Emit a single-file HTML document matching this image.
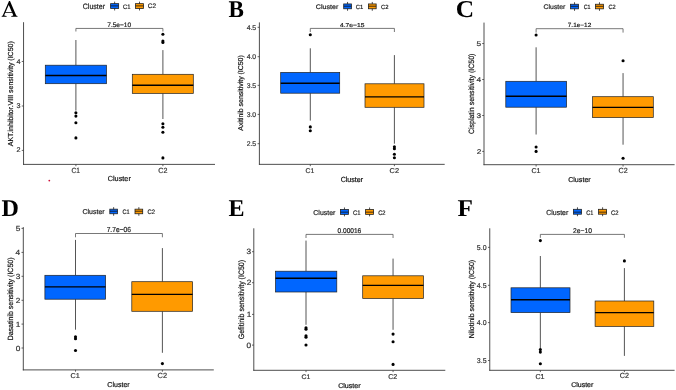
<!DOCTYPE html><html><head><meta charset="utf-8"><style>html,body{margin:0;padding:0;background:#fff;width:676px;height:390px;overflow:hidden}svg{display:block;will-change:transform}text{font-family:"Liberation Sans",sans-serif;text-rendering:geometricPrecision}</style></head><body>
<svg width="676" height="390" viewBox="0 0 676 390">
<rect width="676" height="390" fill="#fff"/>
<g>
<path fill="#000" fill-rule="evenodd" d="M1.7 16.7H6.6V15.9Q4.6 15.8 4.2 15.2L5.32 12.7H12.18L13.3 15.2Q13 15.8 11.3 15.9V16.7H17.5V15.9Q16.4 15.8 16.1 15.2L10 1.1H9L2.9 15.2Q2.6 15.8 1.7 15.9ZM5.675 11.9H11.825L8.75 5.02Z"/>
<text transform="translate(82.7 8.704) scale(0.911 1)" style="font-family:'Liberation Sans',sans-serif;font-weight:normal;font-size:7.789px" fill="#222" stroke="#222" stroke-width="0.2">Cluster</text>
<line x1="114.625" y1="1.65" x2="114.625" y2="10.48" stroke="#222" stroke-width="0.8"/>
<rect x="110.6" y="3.65" width="8.05" height="4.83" fill="#0066FF" stroke="#222" stroke-width="0.8"/>
<line x1="110.6" y1="5.9" x2="118.65" y2="5.9" stroke="#111" stroke-width="0.8"/>
<line x1="139.5" y1="1.65" x2="139.5" y2="10.48" stroke="#222" stroke-width="0.8"/>
<rect x="135.5" y="3.65" width="8" height="4.83" fill="#FF9A00" stroke="#222" stroke-width="0.8"/>
<line x1="135.5" y1="5.9" x2="143.5" y2="5.9" stroke="#111" stroke-width="0.8"/>
<text transform="translate(122.903 8.597) scale(0.909 1)" style="font-family:'Liberation Sans',sans-serif;font-weight:normal;font-size:6.441px" fill="#222" stroke="#222" stroke-width="0.2">C1</text>
<text transform="translate(147.833 8.437) scale(1.003 1)" style="font-family:'Liberation Sans',sans-serif;font-weight:normal;font-size:6.426px" fill="#222" stroke="#222" stroke-width="0.2">C2</text>
<line x1="23.55" y1="22.2" x2="23.55" y2="164.85" stroke="#3a3a3a" stroke-width="0.9"/>
<line x1="23.1" y1="164.4" x2="215" y2="164.4" stroke="#3a3a3a" stroke-width="0.9"/>
<line x1="21.75" y1="61.46" x2="23.55" y2="61.46" stroke="#3a3a3a" stroke-width="0.8"/>
<text transform="translate(16.394 63.51) scale(1.057 1)" style="font-size:6.832px" fill="#333" stroke="#333" stroke-width="0.2">4</text>
<line x1="21.75" y1="106" x2="23.55" y2="106" stroke="#3a3a3a" stroke-width="0.8"/>
<text transform="translate(16.5 108.05) scale(1.057 1)" style="font-size:6.832px" fill="#333" stroke="#333" stroke-width="0.2">3</text>
<line x1="21.75" y1="150.4" x2="23.55" y2="150.4" stroke="#3a3a3a" stroke-width="0.8"/>
<text transform="translate(16.546 152.45) scale(1.057 1)" style="font-size:6.832px" fill="#333" stroke="#333" stroke-width="0.2">2</text>
<line x1="75.9" y1="164.4" x2="75.9" y2="166.2" stroke="#3a3a3a" stroke-width="0.8"/>
<line x1="162.9" y1="164.4" x2="162.9" y2="166.2" stroke="#3a3a3a" stroke-width="0.8"/>
<text transform="translate(71.464 172.727) scale(0.884 1)" style="font-family:'Liberation Sans',sans-serif;font-weight:normal;font-size:7.486px" fill="#333" stroke="#333" stroke-width="0.2">C1</text>
<text transform="translate(158.338 172.727) scale(0.953 1)" style="font-family:'Liberation Sans',sans-serif;font-weight:normal;font-size:7.486px" fill="#333" stroke="#333" stroke-width="0.2">C2</text>
<text transform="translate(107.729 181.13) scale(1.012 1)" style="font-family:'Liberation Sans',sans-serif;font-weight:normal;font-size:7.217px" fill="#111" stroke="#111" stroke-width="0.2">Cluster</text>
<text transform="translate(13.4 146.214) rotate(-90) scale(0.965 1)" style="font-size:7.267px" fill="#111" stroke="#111" stroke-width="0.2">AKT.inhibitor.VIII sensitivity (IC50)</text>
<line x1="75.9" y1="40" x2="75.9" y2="65.2" stroke="#2a2a2a" stroke-width="0.8"/>
<line x1="75.9" y1="83.7" x2="75.9" y2="110.6" stroke="#2a2a2a" stroke-width="0.8"/>
<rect x="45.3" y="65.2" width="61.2" height="18.5" fill="#0066FF" stroke="#222" stroke-width="0.7"/>
<line x1="45.3" y1="75.5" x2="106.5" y2="75.5" stroke="#000" stroke-width="1.35"/>
<circle cx="75.9" cy="112.8" r="1.55" fill="#000"/>
<circle cx="75.9" cy="116.1" r="1.55" fill="#000"/>
<circle cx="75.9" cy="122.8" r="1.55" fill="#000"/>
<circle cx="75.9" cy="137.9" r="1.55" fill="#000"/>
<line x1="162.9" y1="50.1" x2="162.9" y2="74.3" stroke="#2a2a2a" stroke-width="0.8"/>
<line x1="162.9" y1="93.4" x2="162.9" y2="119" stroke="#2a2a2a" stroke-width="0.8"/>
<rect x="132.3" y="74.3" width="61" height="19.1" fill="#FF9A00" stroke="#222" stroke-width="0.7"/>
<line x1="132.3" y1="85.2" x2="193.3" y2="85.2" stroke="#000" stroke-width="1.35"/>
<circle cx="162.9" cy="34.2" r="1.55" fill="#000"/>
<circle cx="162.9" cy="41" r="1.55" fill="#000"/>
<circle cx="162.9" cy="42.5" r="1.55" fill="#000"/>
<circle cx="162.9" cy="123.7" r="1.55" fill="#000"/>
<circle cx="162.9" cy="127.2" r="1.55" fill="#000"/>
<circle cx="162.9" cy="132.3" r="1.55" fill="#000"/>
<circle cx="162.9" cy="157.9" r="1.55" fill="#000"/>
<path d="M75.9 31.5V28.43H162.9V31.5" fill="none" stroke="#555" stroke-width="0.8"/>
<text transform="translate(107.222 26.637) scale(1.014 1)" style="font-family:'Liberation Sans',sans-serif;font-weight:normal;font-size:6.497px" fill="#222" stroke="#222" stroke-width="0.2">7.5e−10</text>
</g>
<g>
<text transform="translate(228.416 16.57) scale(0.963 1)" style="font-family:'Liberation Serif',serif;font-weight:bold;font-size:24.007px" fill="#000" stroke="#000" stroke-width="0">B</text>
<text transform="translate(315.81 8.736) scale(1.074 1)" style="font-family:'Liberation Sans',sans-serif;font-weight:normal;font-size:6.604px" fill="#222" stroke="#222" stroke-width="0.2">Cluster</text>
<line x1="347.55" y1="1.95" x2="347.55" y2="10.77" stroke="#222" stroke-width="0.8"/>
<rect x="343.7" y="3.95" width="7.7" height="4.82" fill="#0066FF" stroke="#222" stroke-width="0.8"/>
<line x1="343.7" y1="6.2" x2="351.4" y2="6.2" stroke="#111" stroke-width="0.8"/>
<line x1="372.28" y1="1.95" x2="372.28" y2="10.77" stroke="#222" stroke-width="0.8"/>
<rect x="368.4" y="3.95" width="7.76" height="4.82" fill="#FF9A00" stroke="#222" stroke-width="0.8"/>
<line x1="368.4" y1="6.2" x2="376.16" y2="6.2" stroke="#111" stroke-width="0.8"/>
<text transform="translate(355.803 8.842) scale(0.987 1)" style="font-family:'Liberation Sans',sans-serif;font-weight:normal;font-size:5.932px" fill="#222" stroke="#222" stroke-width="0.2">C1</text>
<text transform="translate(381.002 8.842) scale(0.988 1)" style="font-family:'Liberation Sans',sans-serif;font-weight:normal;font-size:5.932px" fill="#222" stroke="#222" stroke-width="0.2">C2</text>
<line x1="259.4" y1="22.4" x2="259.4" y2="164.8" stroke="#3a3a3a" stroke-width="0.9"/>
<line x1="258.95" y1="164.35" x2="444.7" y2="164.35" stroke="#3a3a3a" stroke-width="0.9"/>
<line x1="257.6" y1="27.3" x2="259.4" y2="27.3" stroke="#3a3a3a" stroke-width="0.8"/>
<text transform="translate(246.68 29.647) scale(1.001 1)" style="font-size:6.822px" fill="#333" stroke="#333" stroke-width="0.2">4.5</text>
<line x1="257.6" y1="56.7" x2="259.4" y2="56.7" stroke="#3a3a3a" stroke-width="0.8"/>
<text transform="translate(246.66 59.047) scale(1.001 1)" style="font-size:6.822px" fill="#333" stroke="#333" stroke-width="0.2">4.0</text>
<line x1="257.6" y1="85.35" x2="259.4" y2="85.35" stroke="#3a3a3a" stroke-width="0.8"/>
<text transform="translate(246.68 87.697) scale(1.001 1)" style="font-size:6.822px" fill="#333" stroke="#333" stroke-width="0.2">3.5</text>
<line x1="257.6" y1="114.4" x2="259.4" y2="114.4" stroke="#3a3a3a" stroke-width="0.8"/>
<text transform="translate(246.66 116.747) scale(1.001 1)" style="font-size:6.822px" fill="#333" stroke="#333" stroke-width="0.2">3.0</text>
<line x1="257.6" y1="143.7" x2="259.4" y2="143.7" stroke="#3a3a3a" stroke-width="0.8"/>
<text transform="translate(246.68 146.047) scale(1.001 1)" style="font-size:6.822px" fill="#333" stroke="#333" stroke-width="0.2">2.5</text>
<line x1="310.3" y1="164.35" x2="310.3" y2="166.15" stroke="#3a3a3a" stroke-width="0.8"/>
<line x1="394.4" y1="164.35" x2="394.4" y2="166.15" stroke="#3a3a3a" stroke-width="0.8"/>
<text transform="translate(305.451 172.732) scale(0.993 1)" style="font-family:'Liberation Sans',sans-serif;font-weight:normal;font-size:6.921px" fill="#333" stroke="#333" stroke-width="0.2">C1</text>
<text transform="translate(389.523 172.731) scale(1.052 1)" style="font-family:'Liberation Sans',sans-serif;font-weight:normal;font-size:7.062px" fill="#333" stroke="#333" stroke-width="0.2">C2</text>
<text transform="translate(340.64 181.527) scale(0.948 1)" style="font-family:'Liberation Sans',sans-serif;font-weight:normal;font-size:7.489px" fill="#111" stroke="#111" stroke-width="0.2">Cluster</text>
<text transform="translate(243.2 130.714) rotate(-90) scale(0.975 1)" style="font-size:7.122px" fill="#111" stroke="#111" stroke-width="0.2">Axitinib sensitivity (IC50)</text>
<line x1="310.3" y1="48.3" x2="310.3" y2="72.4" stroke="#2a2a2a" stroke-width="0.8"/>
<line x1="310.3" y1="93.2" x2="310.3" y2="120.6" stroke="#2a2a2a" stroke-width="0.8"/>
<rect x="280.7" y="72.4" width="59" height="20.8" fill="#0066FF" stroke="#222" stroke-width="0.7"/>
<line x1="280.7" y1="83.2" x2="339.7" y2="83.2" stroke="#000" stroke-width="1.35"/>
<circle cx="310.3" cy="34.8" r="1.55" fill="#000"/>
<circle cx="310.3" cy="126.9" r="1.55" fill="#000"/>
<circle cx="310.3" cy="130.8" r="1.55" fill="#000"/>
<line x1="394.4" y1="55.1" x2="394.4" y2="83.8" stroke="#2a2a2a" stroke-width="0.8"/>
<line x1="394.4" y1="107.3" x2="394.4" y2="143.7" stroke="#2a2a2a" stroke-width="0.8"/>
<rect x="365" y="83.8" width="59" height="23.5" fill="#FF9A00" stroke="#222" stroke-width="0.7"/>
<line x1="365" y1="96.9" x2="424" y2="96.9" stroke="#000" stroke-width="1.35"/>
<circle cx="394.4" cy="146.7" r="1.55" fill="#000"/>
<circle cx="394.4" cy="148.7" r="1.55" fill="#000"/>
<circle cx="394.4" cy="154.3" r="1.55" fill="#000"/>
<circle cx="394.4" cy="157.7" r="1.55" fill="#000"/>
<path d="M310.3 32V28.4H394.4V32" fill="none" stroke="#555" stroke-width="0.8"/>
<text transform="translate(339.946 26.795) scale(1.187 1)" style="font-family:'Liberation Sans',sans-serif;font-weight:normal;font-size:5.661px" fill="#222" stroke="#222" stroke-width="0.2">4.7e−15</text>
</g>
<g>
<text transform="translate(455.857 16.962) scale(1.046 1)" style="font-family:'Liberation Serif',serif;font-weight:bold;font-size:24.335px" fill="#000" stroke="#000" stroke-width="0">C</text>
<text transform="translate(543.549 9.135) scale(1.035 1)" style="font-family:'Liberation Sans',sans-serif;font-weight:normal;font-size:6.672px" fill="#222" stroke="#222" stroke-width="0.2">Cluster</text>
<line x1="574.525" y1="2.25" x2="574.525" y2="10.83" stroke="#222" stroke-width="0.8"/>
<rect x="570.55" y="4.25" width="7.95" height="4.58" fill="#0066FF" stroke="#222" stroke-width="0.8"/>
<line x1="570.55" y1="6.3" x2="578.5" y2="6.3" stroke="#111" stroke-width="0.8"/>
<line x1="599.475" y1="2.25" x2="599.475" y2="10.83" stroke="#222" stroke-width="0.8"/>
<rect x="595.5" y="4.25" width="7.95" height="4.58" fill="#FF9A00" stroke="#222" stroke-width="0.8"/>
<line x1="595.5" y1="6.3" x2="603.45" y2="6.3" stroke="#111" stroke-width="0.8"/>
<text transform="translate(583.629 9.239) scale(0.86 1)" style="font-family:'Liberation Sans',sans-serif;font-weight:normal;font-size:6.215px" fill="#222" stroke="#222" stroke-width="0.2">C1</text>
<text transform="translate(608.415 9.239) scale(0.902 1)" style="font-family:'Liberation Sans',sans-serif;font-weight:normal;font-size:6.215px" fill="#222" stroke="#222" stroke-width="0.2">C2</text>
<line x1="484" y1="22.6" x2="484" y2="165.15" stroke="#3a3a3a" stroke-width="0.9"/>
<line x1="483.55" y1="164.7" x2="674.6" y2="164.7" stroke="#3a3a3a" stroke-width="0.9"/>
<line x1="482.2" y1="43.54" x2="484" y2="43.54" stroke="#3a3a3a" stroke-width="0.8"/>
<text transform="translate(476.566 45.781) scale(1.199 1)" style="font-size:6.951px" fill="#333" stroke="#333" stroke-width="0.2">5</text>
<line x1="482.2" y1="79.5" x2="484" y2="79.5" stroke="#3a3a3a" stroke-width="0.8"/>
<text transform="translate(476.461 81.741) scale(1.199 1)" style="font-size:6.951px" fill="#333" stroke="#333" stroke-width="0.2">4</text>
<line x1="482.2" y1="115.5" x2="484" y2="115.5" stroke="#3a3a3a" stroke-width="0.8"/>
<text transform="translate(476.583 117.741) scale(1.199 1)" style="font-size:6.951px" fill="#333" stroke="#333" stroke-width="0.2">3</text>
<line x1="482.2" y1="151.4" x2="484" y2="151.4" stroke="#3a3a3a" stroke-width="0.8"/>
<text transform="translate(476.636 153.641) scale(1.199 1)" style="font-size:6.951px" fill="#333" stroke="#333" stroke-width="0.2">2</text>
<line x1="536.1" y1="164.7" x2="536.1" y2="166.5" stroke="#3a3a3a" stroke-width="0.8"/>
<line x1="623.06" y1="164.7" x2="623.06" y2="166.5" stroke="#3a3a3a" stroke-width="0.8"/>
<text transform="translate(531.438 173.331) scale(1.009 1)" style="font-family:'Liberation Sans',sans-serif;font-weight:normal;font-size:7.062px" fill="#333" stroke="#333" stroke-width="0.2">C1</text>
<text transform="translate(618.486 173.327) scale(0.959 1)" style="font-family:'Liberation Sans',sans-serif;font-weight:normal;font-size:7.486px" fill="#333" stroke="#333" stroke-width="0.2">C2</text>
<text transform="translate(568.138 181.831) scale(1.007 1)" style="font-family:'Liberation Sans',sans-serif;font-weight:normal;font-size:7.081px" fill="#111" stroke="#111" stroke-width="0.2">Cluster</text>
<text transform="translate(473.5 134.106) rotate(-90) scale(0.91 1)" style="font-size:7.703px" fill="#111" stroke="#111" stroke-width="0.2">Cisplatin sensitivity (IC50)</text>
<line x1="536.1" y1="47.3" x2="536.1" y2="81.3" stroke="#2a2a2a" stroke-width="0.8"/>
<line x1="536.1" y1="107.2" x2="536.1" y2="134.5" stroke="#2a2a2a" stroke-width="0.8"/>
<rect x="505.8" y="81.3" width="60.8" height="25.9" fill="#0066FF" stroke="#222" stroke-width="0.7"/>
<line x1="505.8" y1="96.2" x2="566.6" y2="96.2" stroke="#000" stroke-width="1.35"/>
<circle cx="536.1" cy="35" r="1.55" fill="#000"/>
<circle cx="536.1" cy="147" r="1.55" fill="#000"/>
<circle cx="536.1" cy="151.4" r="1.55" fill="#000"/>
<line x1="623.06" y1="73.1" x2="623.06" y2="96.7" stroke="#2a2a2a" stroke-width="0.8"/>
<line x1="623.06" y1="117.6" x2="623.06" y2="144.7" stroke="#2a2a2a" stroke-width="0.8"/>
<rect x="592.5" y="96.7" width="60.8" height="20.9" fill="#FF9A00" stroke="#222" stroke-width="0.7"/>
<line x1="592.5" y1="107.3" x2="653.3" y2="107.3" stroke="#000" stroke-width="1.35"/>
<circle cx="623.06" cy="60.8" r="1.55" fill="#000"/>
<circle cx="623.06" cy="158.3" r="1.55" fill="#000"/>
<path d="M536.1 32.6V28.7H623.06V32.6" fill="none" stroke="#555" stroke-width="0.8"/>
<text transform="translate(567.769 27.341) scale(1.063 1)" style="font-family:'Liberation Sans',sans-serif;font-weight:normal;font-size:6.073px" fill="#222" stroke="#222" stroke-width="0.2">7.1e−12</text>
</g>
<g>
<text transform="translate(1.576 215.693) scale(1.002 1)" style="font-family:'Liberation Serif',serif;font-weight:bold;font-size:24.043px" fill="#000" stroke="#000" stroke-width="0">D</text>
<text transform="translate(82.445 214.032) scale(1.008 1)" style="font-family:'Liberation Sans',sans-serif;font-weight:normal;font-size:6.945px" fill="#222" stroke="#222" stroke-width="0.2">Cluster</text>
<line x1="113.625" y1="207.17" x2="113.625" y2="215.75" stroke="#222" stroke-width="0.8"/>
<rect x="109.8" y="209.17" width="7.65" height="4.58" fill="#0066FF" stroke="#222" stroke-width="0.8"/>
<line x1="109.8" y1="211.23" x2="117.45" y2="211.23" stroke="#111" stroke-width="0.8"/>
<line x1="138.85" y1="207.17" x2="138.85" y2="215.75" stroke="#222" stroke-width="0.8"/>
<rect x="135" y="209.17" width="7.7" height="4.58" fill="#FF9A00" stroke="#222" stroke-width="0.8"/>
<line x1="135" y1="211.23" x2="142.7" y2="211.23" stroke="#111" stroke-width="0.8"/>
<text transform="translate(122.516 214.137) scale(0.862 1)" style="font-family:'Liberation Sans',sans-serif;font-weight:normal;font-size:6.497px" fill="#222" stroke="#222" stroke-width="0.2">C1</text>
<text transform="translate(147.602 214.137) scale(0.902 1)" style="font-family:'Liberation Sans',sans-serif;font-weight:normal;font-size:6.497px" fill="#222" stroke="#222" stroke-width="0.2">C2</text>
<line x1="23.3" y1="227.1" x2="23.3" y2="370.35" stroke="#3a3a3a" stroke-width="0.9"/>
<line x1="22.85" y1="369.9" x2="213.8" y2="369.9" stroke="#3a3a3a" stroke-width="0.9"/>
<line x1="21.5" y1="228.36" x2="23.3" y2="228.36" stroke="#3a3a3a" stroke-width="0.8"/>
<text transform="translate(15.668 230.914) scale(1.117 1)" style="font-size:7.424px" fill="#333" stroke="#333" stroke-width="0.2">5</text>
<line x1="21.5" y1="252.4" x2="23.3" y2="252.4" stroke="#3a3a3a" stroke-width="0.8"/>
<text transform="translate(15.563 254.954) scale(1.117 1)" style="font-size:7.424px" fill="#333" stroke="#333" stroke-width="0.2">4</text>
<line x1="21.5" y1="276.3" x2="23.3" y2="276.3" stroke="#3a3a3a" stroke-width="0.8"/>
<text transform="translate(15.684 278.854) scale(1.117 1)" style="font-size:7.424px" fill="#333" stroke="#333" stroke-width="0.2">3</text>
<line x1="21.5" y1="300.3" x2="23.3" y2="300.3" stroke="#3a3a3a" stroke-width="0.8"/>
<text transform="translate(15.737 302.854) scale(1.117 1)" style="font-size:7.424px" fill="#333" stroke="#333" stroke-width="0.2">2</text>
<line x1="21.5" y1="324.1" x2="23.3" y2="324.1" stroke="#3a3a3a" stroke-width="0.8"/>
<text transform="translate(15.725 326.654) scale(1.117 1)" style="font-size:7.424px" fill="#333" stroke="#333" stroke-width="0.2">1</text>
<line x1="21.5" y1="348" x2="23.3" y2="348" stroke="#3a3a3a" stroke-width="0.8"/>
<text transform="translate(15.644 350.554) scale(1.117 1)" style="font-size:7.424px" fill="#333" stroke="#333" stroke-width="0.2">0</text>
<line x1="75.5" y1="369.9" x2="75.5" y2="371.7" stroke="#3a3a3a" stroke-width="0.8"/>
<line x1="162.4" y1="369.9" x2="162.4" y2="371.7" stroke="#3a3a3a" stroke-width="0.8"/>
<text transform="translate(70.429 378.331) scale(1.033 1)" style="font-family:'Liberation Sans',sans-serif;font-weight:normal;font-size:7.062px" fill="#333" stroke="#333" stroke-width="0.2">C1</text>
<text transform="translate(157.523 378.027) scale(0.993 1)" style="font-family:'Liberation Sans',sans-serif;font-weight:normal;font-size:7.486px" fill="#333" stroke="#333" stroke-width="0.2">C2</text>
<text transform="translate(107.341 386.88) scale(0.988 1)" style="font-family:'Liberation Sans',sans-serif;font-weight:normal;font-size:7.149px" fill="#111" stroke="#111" stroke-width="0.2">Cluster</text>
<text transform="translate(12.8 340.325) rotate(-90) scale(0.927 1)" style="font-size:7.558px" fill="#111" stroke="#111" stroke-width="0.2">Dasatinib sensitivity (IC50)</text>
<line x1="75.5" y1="239.9" x2="75.5" y2="275.3" stroke="#2a2a2a" stroke-width="0.8"/>
<line x1="75.5" y1="299.2" x2="75.5" y2="329.7" stroke="#2a2a2a" stroke-width="0.8"/>
<rect x="44.9" y="275.3" width="60.7" height="23.9" fill="#0066FF" stroke="#222" stroke-width="0.7"/>
<line x1="44.9" y1="286.8" x2="105.6" y2="286.8" stroke="#000" stroke-width="1.35"/>
<circle cx="75.5" cy="336.7" r="1.55" fill="#000"/>
<circle cx="75.5" cy="338.7" r="1.55" fill="#000"/>
<circle cx="75.5" cy="350.5" r="1.55" fill="#000"/>
<line x1="162.4" y1="248.1" x2="162.4" y2="281.7" stroke="#2a2a2a" stroke-width="0.8"/>
<line x1="162.4" y1="311.3" x2="162.4" y2="352.8" stroke="#2a2a2a" stroke-width="0.8"/>
<rect x="131.8" y="281.7" width="60.8" height="29.6" fill="#FF9A00" stroke="#222" stroke-width="0.7"/>
<line x1="131.8" y1="294.4" x2="192.6" y2="294.4" stroke="#000" stroke-width="1.35"/>
<circle cx="162.4" cy="363.6" r="1.55" fill="#000"/>
<path d="M75.5 237.3V233.5H162.4V237.3" fill="none" stroke="#555" stroke-width="0.8"/>
<text transform="translate(106.657 232.479) scale(0.918 1)" style="font-family:'Liberation Sans',sans-serif;font-weight:normal;font-size:7.274px" fill="#222" stroke="#222" stroke-width="0.2">7.7e−06</text>
</g>
<g>
<text transform="translate(228.389 215.74) scale(0.998 1)" style="font-family:'Liberation Serif',serif;font-weight:bold;font-size:24.115px" fill="#000" stroke="#000" stroke-width="0">E</text>
<text transform="translate(313.346 214.632) scale(1.003 1)" style="font-family:'Liberation Sans',sans-serif;font-weight:normal;font-size:6.945px" fill="#222" stroke="#222" stroke-width="0.2">Cluster</text>
<line x1="344.465" y1="207.48" x2="344.465" y2="216.37" stroke="#222" stroke-width="0.8"/>
<rect x="340.48" y="209.48" width="7.97" height="4.89" fill="#0066FF" stroke="#222" stroke-width="0.8"/>
<line x1="340.48" y1="212.15" x2="348.45" y2="212.15" stroke="#111" stroke-width="0.8"/>
<line x1="369.575" y1="207.48" x2="369.575" y2="216.37" stroke="#222" stroke-width="0.8"/>
<rect x="365.6" y="209.48" width="7.95" height="4.89" fill="#FF9A00" stroke="#222" stroke-width="0.8"/>
<line x1="365.6" y1="212.15" x2="373.55" y2="212.15" stroke="#111" stroke-width="0.8"/>
<text transform="translate(353.003 214.635) scale(0.882 1)" style="font-family:'Liberation Sans',sans-serif;font-weight:normal;font-size:6.638px" fill="#222" stroke="#222" stroke-width="0.2">C1</text>
<text transform="translate(378.207 214.635) scale(0.87 1)" style="font-family:'Liberation Sans',sans-serif;font-weight:normal;font-size:6.638px" fill="#222" stroke="#222" stroke-width="0.2">C2</text>
<line x1="253.8" y1="228.3" x2="253.8" y2="370.75" stroke="#3a3a3a" stroke-width="0.9"/>
<line x1="253.35" y1="370.3" x2="445.3" y2="370.3" stroke="#3a3a3a" stroke-width="0.9"/>
<line x1="252" y1="251.7" x2="253.8" y2="251.7" stroke="#3a3a3a" stroke-width="0.8"/>
<text transform="translate(246.584 254.309) scale(1.093 1)" style="font-size:7.585px" fill="#333" stroke="#333" stroke-width="0.2">3</text>
<line x1="252" y1="282.7" x2="253.8" y2="282.7" stroke="#3a3a3a" stroke-width="0.8"/>
<text transform="translate(246.637 285.309) scale(1.093 1)" style="font-size:7.585px" fill="#333" stroke="#333" stroke-width="0.2">2</text>
<line x1="252" y1="314.4" x2="253.8" y2="314.4" stroke="#3a3a3a" stroke-width="0.8"/>
<text transform="translate(246.625 317.009) scale(1.093 1)" style="font-size:7.585px" fill="#333" stroke="#333" stroke-width="0.2">1</text>
<line x1="252" y1="345.1" x2="253.8" y2="345.1" stroke="#3a3a3a" stroke-width="0.8"/>
<text transform="translate(246.544 347.709) scale(1.093 1)" style="font-size:7.585px" fill="#333" stroke="#333" stroke-width="0.2">0</text>
<line x1="306" y1="370.3" x2="306" y2="372.1" stroke="#3a3a3a" stroke-width="0.8"/>
<line x1="393.06" y1="370.3" x2="393.06" y2="372.1" stroke="#3a3a3a" stroke-width="0.8"/>
<text transform="translate(301.451 378.835) scale(1.035 1)" style="font-family:'Liberation Sans',sans-serif;font-weight:normal;font-size:6.638px" fill="#333" stroke="#333" stroke-width="0.2">C1</text>
<text transform="translate(388.188 378.631) scale(1.01 1)" style="font-family:'Liberation Sans',sans-serif;font-weight:normal;font-size:7.062px" fill="#333" stroke="#333" stroke-width="0.2">C2</text>
<text transform="translate(338.138 387.634) scale(1.047 1)" style="font-family:'Liberation Sans',sans-serif;font-weight:normal;font-size:6.809px" fill="#111" stroke="#111" stroke-width="0.2">Cluster</text>
<text transform="translate(243.7 339.152) rotate(-90) scale(0.892 1)" style="font-size:7.849px" fill="#111" stroke="#111" stroke-width="0.2">Gefitinib sensitivity (IC50)</text>
<line x1="306" y1="240.6" x2="306" y2="271.2" stroke="#2a2a2a" stroke-width="0.8"/>
<line x1="306" y1="292" x2="306" y2="324.8" stroke="#2a2a2a" stroke-width="0.8"/>
<rect x="275.5" y="271.2" width="61.3" height="20.8" fill="#0066FF" stroke="#222" stroke-width="0.7"/>
<line x1="275.5" y1="278.2" x2="336.8" y2="278.2" stroke="#000" stroke-width="1.35"/>
<circle cx="306" cy="327.8" r="1.55" fill="#000"/>
<circle cx="306" cy="329.3" r="1.55" fill="#000"/>
<circle cx="306" cy="335.8" r="1.55" fill="#000"/>
<circle cx="306" cy="337.3" r="1.55" fill="#000"/>
<circle cx="306" cy="345" r="1.55" fill="#000"/>
<line x1="393.06" y1="258.6" x2="393.06" y2="275.8" stroke="#2a2a2a" stroke-width="0.8"/>
<line x1="393.06" y1="298.5" x2="393.06" y2="329.8" stroke="#2a2a2a" stroke-width="0.8"/>
<rect x="362.7" y="275.8" width="60.8" height="22.7" fill="#FF9A00" stroke="#222" stroke-width="0.7"/>
<line x1="362.7" y1="285.3" x2="423.5" y2="285.3" stroke="#000" stroke-width="1.35"/>
<circle cx="393.06" cy="334.1" r="1.55" fill="#000"/>
<circle cx="393.06" cy="341.8" r="1.55" fill="#000"/>
<circle cx="393.06" cy="364.4" r="1.55" fill="#000"/>
<path d="M306 238V234.4H393.06V238" fill="none" stroke="#555" stroke-width="0.8"/>
<text transform="translate(337.544 232.783) scale(0.958 1)" style="font-family:'Liberation Sans',sans-serif;font-weight:normal;font-size:6.85px" fill="#222" stroke="#222" stroke-width="0.2">0.00016</text>
</g>
<g>
<text transform="translate(457.468 215.74) scale(1.048 1)" style="font-family:'Liberation Serif',serif;font-weight:bold;font-size:24.115px" fill="#000" stroke="#000" stroke-width="0">F</text>
<text transform="translate(546.246 214.628) scale(0.948 1)" style="font-family:'Liberation Sans',sans-serif;font-weight:normal;font-size:7.353px" fill="#222" stroke="#222" stroke-width="0.2">Cluster</text>
<line x1="577.465" y1="207.32" x2="577.465" y2="216.2" stroke="#222" stroke-width="0.8"/>
<rect x="573.48" y="209.32" width="7.97" height="4.88" fill="#0066FF" stroke="#222" stroke-width="0.8"/>
<line x1="573.48" y1="212.15" x2="581.45" y2="212.15" stroke="#111" stroke-width="0.8"/>
<line x1="602.6" y1="207.32" x2="602.6" y2="216.2" stroke="#222" stroke-width="0.8"/>
<rect x="598.6" y="209.32" width="8" height="4.88" fill="#FF9A00" stroke="#222" stroke-width="0.8"/>
<line x1="598.6" y1="212.15" x2="606.6" y2="212.15" stroke="#111" stroke-width="0.8"/>
<text transform="translate(586.22 214.535) scale(0.831 1)" style="font-family:'Liberation Sans',sans-serif;font-weight:normal;font-size:6.638px" fill="#222" stroke="#222" stroke-width="0.2">C1</text>
<text transform="translate(611.002 214.535) scale(0.883 1)" style="font-family:'Liberation Sans',sans-serif;font-weight:normal;font-size:6.638px" fill="#222" stroke="#222" stroke-width="0.2">C2</text>
<line x1="489.76" y1="228.3" x2="489.76" y2="370.75" stroke="#3a3a3a" stroke-width="0.9"/>
<line x1="489.31" y1="370.3" x2="674.6" y2="370.3" stroke="#3a3a3a" stroke-width="0.9"/>
<line x1="487.96" y1="247.35" x2="489.76" y2="247.35" stroke="#3a3a3a" stroke-width="0.8"/>
<text transform="translate(476.841 249.784) scale(0.984 1)" style="font-size:7.076px" fill="#333" stroke="#333" stroke-width="0.2">5.0</text>
<line x1="487.96" y1="285.3" x2="489.76" y2="285.3" stroke="#3a3a3a" stroke-width="0.8"/>
<text transform="translate(476.862 287.734) scale(0.984 1)" style="font-size:7.076px" fill="#333" stroke="#333" stroke-width="0.2">4.5</text>
<line x1="487.96" y1="322.6" x2="489.76" y2="322.6" stroke="#3a3a3a" stroke-width="0.8"/>
<text transform="translate(476.841 325.034) scale(0.984 1)" style="font-size:7.076px" fill="#333" stroke="#333" stroke-width="0.2">4.0</text>
<line x1="487.96" y1="360.5" x2="489.76" y2="360.5" stroke="#3a3a3a" stroke-width="0.8"/>
<text transform="translate(476.862 362.934) scale(0.984 1)" style="font-size:7.076px" fill="#333" stroke="#333" stroke-width="0.2">3.5</text>
<line x1="540.35" y1="370.3" x2="540.35" y2="372.1" stroke="#3a3a3a" stroke-width="0.8"/>
<line x1="624.4" y1="370.3" x2="624.4" y2="372.1" stroke="#3a3a3a" stroke-width="0.8"/>
<text transform="translate(535.438 378.63) scale(0.989 1)" style="font-family:'Liberation Sans',sans-serif;font-weight:normal;font-size:7.203px" fill="#333" stroke="#333" stroke-width="0.2">C1</text>
<text transform="translate(619.836 378.327) scale(0.959 1)" style="font-family:'Liberation Sans',sans-serif;font-weight:normal;font-size:7.486px" fill="#333" stroke="#333" stroke-width="0.2">C2</text>
<text transform="translate(571.144 387.134) scale(1.03 1)" style="font-family:'Liberation Sans',sans-serif;font-weight:normal;font-size:6.809px" fill="#111" stroke="#111" stroke-width="0.2">Cluster</text>
<text transform="translate(473.6 338.325) rotate(-90) scale(0.964 1)" style="font-size:7.267px" fill="#111" stroke="#111" stroke-width="0.2">Nilotinib sensitivity (IC50)</text>
<line x1="540.35" y1="256" x2="540.35" y2="287.8" stroke="#2a2a2a" stroke-width="0.8"/>
<line x1="540.35" y1="312.6" x2="540.35" y2="348.5" stroke="#2a2a2a" stroke-width="0.8"/>
<rect x="511" y="287.8" width="59" height="24.8" fill="#0066FF" stroke="#222" stroke-width="0.7"/>
<line x1="511" y1="299.7" x2="570" y2="299.7" stroke="#000" stroke-width="1.35"/>
<circle cx="540.35" cy="240.6" r="1.55" fill="#000"/>
<circle cx="540.35" cy="349.6" r="1.55" fill="#000"/>
<circle cx="540.35" cy="352.1" r="1.55" fill="#000"/>
<circle cx="540.35" cy="363.7" r="1.55" fill="#000"/>
<line x1="624.4" y1="268.1" x2="624.4" y2="301" stroke="#2a2a2a" stroke-width="0.8"/>
<line x1="624.4" y1="326.4" x2="624.4" y2="355.9" stroke="#2a2a2a" stroke-width="0.8"/>
<rect x="595.1" y="301" width="58.7" height="25.4" fill="#FF9A00" stroke="#222" stroke-width="0.7"/>
<line x1="595.1" y1="312.6" x2="653.8" y2="312.6" stroke="#000" stroke-width="1.35"/>
<circle cx="624.4" cy="260.9" r="1.55" fill="#000"/>
<path d="M540.35 237.8V234.4H624.4V237.8" fill="none" stroke="#555" stroke-width="0.8"/>
<text transform="translate(572.96 232.783) scale(0.988 1)" style="font-family:'Liberation Sans',sans-serif;font-weight:normal;font-size:6.85px" fill="#222" stroke="#222" stroke-width="0.2">2e−10</text>
</g>
<circle cx="49.3" cy="180.6" r="0.9" fill="#d0103a"/>
</svg></body></html>
